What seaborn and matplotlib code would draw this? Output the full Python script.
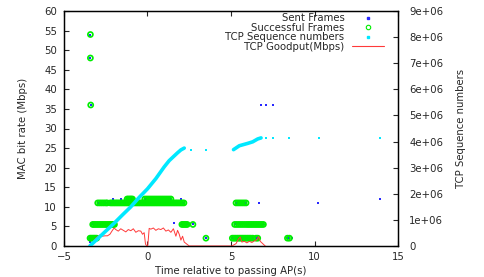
import matplotlib
matplotlib.use('Agg')
import matplotlib.pyplot as plt
import numpy as np
import pandas as pd
import seaborn as sns
from matplotlib.lines import Line2D

# successful frames: time (s) per MAC rate (Mbps)
succ_54 = [-3.42]
succ_48 = [-3.42]
succ_36 = [-3.40]
succ_12 = [-1.22, -1.14, -1.06, -0.98, -0.9, -0.16, -0.04, 0.08, 0.2, 0.32, 0.44,
           0.56, 0.68, 0.8, 0.92, 1.04, 1.16, 1.28, 1.4]
succ_11 = [-2.98, -2.86, -2.74, -2.62, -2.5, -2.41, -2.22, -2.12, -2.02, -1.92, -1.82,
           -1.72, -1.62, -1.52, -1.42, -1.32, -1.22, -1.12, -1.02, -0.92, -0.82, -0.72,
           -0.62, -0.52, -0.42, -0.32, -0.22, -0.12, -0.02, 0.08, 0.18, 0.28, 0.38, 0.48,
           0.58, 0.68, 0.78, 0.88, 0.98, 1.08, 1.18, 1.28, 1.38, 1.48, 1.58, 1.68, 1.78,
           1.88, 1.98, 2.08, 2.18, 5.3, 5.42, 5.54, 5.66, 5.78, 5.9]
succ_55 = [-3.28, -3.2, -3.1, -3.0, -2.9, -2.8, -2.7, -2.6, -2.5, -2.4, -2.3, -2.22,
           -2.14, -2.06, -1.98, 2.06, 2.14, 2.22, 2.3, 2.38, 2.72, 5.22, 5.34, 5.46, 5.58,
           5.7, 5.82, 5.94, 6.04, 6.14, 6.24, 6.34, 6.44, 6.54, 6.64, 6.74, 6.84, 6.94]
succ_2 = [-3.44, -3.36, -3.28, -3.2, -3.12, -3.04, 3.5, 5.08, 5.18, 5.28, 5.38, 5.48,
          5.58, 5.68, 5.78, 5.88, 5.98, 6.08, 6.18, 6.3, 6.5, 6.6, 8.38, 8.5]

# frames sent but not successful
fail_t = [-3.45, -2.07, -1.57, 2.0, 1.6, 6.65, 10.22, 13.9, 6.8, 7.1, 7.5, 8.63]
fail_rate = [1, 12, 12, 12, 6, 11, 11, 12, 36, 36, 36, 2]

# TCP sequence numbers
seq_t1 = [-3.45, -3.0, -2.5, -2.0, -1.5, -1.0, -0.5, 0.0, 0.5, 1.0, 1.3, 1.5, 1.8, 2.0, 2.2]
seq_v1 = [0, 0.27e6, 0.57e6, 0.87e6, 1.19e6, 1.5e6, 1.86e6, 2.19e6, 2.58e6, 3.03e6,
          3.27e6, 3.39e6, 3.57e6, 3.68e6, 3.75e6]
seq_t2 = [5.15, 5.5, 6.0, 6.3, 6.6, 6.8]
seq_v2 = [3.69e6, 3.84e6, 3.93e6, 3.99e6, 4.10e6, 4.14e6]
seq_dot_t = [2.6, 3.5, 7.07, 7.52, 8.45, 10.24, 13.91]
seq_dot_v = [3.68e6, 3.68e6, 4.14e6, 4.14e6, 4.14e6, 4.14e6, 4.14e6]

# TCP goodput (Mbps)
gp_t = [-3.4, -3.25, -3.1, -2.95, -2.85, -2.7, -2.55, -2.4, -2.25, -2.1, -2.0, -1.9,
        -1.75, -1.6, -1.45, -1.3, -1.15, -1.0, -0.85, -0.7, -0.55, -0.4, -0.3, -0.2,
        -0.12, -0.05, 0.02, 0.1, 0.2, 0.35, 0.5, 0.65, 0.8, 0.95, 1.1, 1.25, 1.4, 1.55,
        1.7, 1.8, 1.9, 2.0, 2.1, 2.2, 2.35, 2.5, 3.5, 5.05, 5.3, 5.45, 5.55, 5.65, 5.8,
        5.95, 6.1, 6.25, 6.4, 6.55, 6.65, 6.75, 6.9, 7.05]
gp_v = [0, 1.0, 2.0, 2.5, 2.8, 2.5, 2.6, 2.6, 3.0, 4.0, 4.6, 4.2, 3.8, 4.4, 4.0, 3.6,
        4.2, 3.9, 4.4, 3.5, 3.9, 3.8, 3.0, 3.4, 0.5, 0.0, 0.2, 4.5, 4.3, 4.6, 4.0, 4.4,
        4.2, 4.6, 3.8, 4.1, 3.5, 4.4, 2.5, 4.0, 3.0, 1.5, 2.5, 1.0, 0.5, 0.0, 0.0, 0.0,
        0.6, 1.8, 2.3, 1.0, 1.2, 0.8, 1.2, 0.9, 1.3, 1.6, 2.4, 1.2, 0.6, 0.0]

succ = pd.DataFrame({
    't': succ_54 + succ_48 + succ_36 + succ_12 + succ_11 + succ_55 + succ_2,
    'rate': [54] * len(succ_54) + [48] * len(succ_48) + [36] * len(succ_36)
            + [12] * len(succ_12) + [11] * len(succ_11) + [5.5] * len(succ_55)
            + [2] * len(succ_2),
})
sent = pd.concat([succ, pd.DataFrame({'t': fail_t, 'rate': fail_rate})], ignore_index=True)

sns.set_theme(style='ticks')
plt.rcParams['font.family'] = ['DejaVu Sans']
plt.rcParams['font.size'] = 7.3

fig = plt.figure(figsize=(4.85, 2.77), dpi=100)
ax = fig.add_axes([64 / 485, 31 / 277, 334 / 485, 235 / 277])
ax2 = ax.twinx()

sns.scatterplot(x='t', y='rate', data=sent, ax=ax, color='#2828ff', marker='s',
                s=4, linewidth=0, legend=False, zorder=2)
sns.scatterplot(x='t', y='rate', data=succ, ax=ax, marker='o', s=13,
                facecolor='none', edgecolor='#00ee00', linewidth=1.25, legend=False, zorder=3)
sns.lineplot(x=gp_t, y=gp_v, ax=ax, color='#ff3a3a', linewidth=0.7, zorder=4)

sns.lineplot(x=seq_t1, y=seq_v1, ax=ax2, color='#00e8ff', linewidth=2.6)
sns.lineplot(x=seq_t2, y=seq_v2, ax=ax2, color='#00e8ff', linewidth=2.6)
sns.scatterplot(x=seq_dot_t, y=seq_dot_v, ax=ax2, color='#00e8ff', marker='s',
                s=3, linewidth=0, legend=False)

ax.set_xlim(-5, 15)
ax.set_ylim(0, 60)
ax.set_xticks([-5, 0, 5, 10, 15])
ax.set_yticks(range(0, 61, 5))
ax2.set_ylim(0, 9e6)
ax2.set_yticks([i * 1e6 for i in range(10)])
ax2.set_yticklabels(['{:g}'.format(i * 1e6) for i in range(10)])

ax.tick_params(axis='x', direction='in', top=True, length=3.5, width=0.8, pad=4,
               labelsize=7.3)
ax.tick_params(axis='y', direction='in', right=False, length=3.5, width=0.8, pad=5,
               labelsize=7.3)
ax2.tick_params(axis='y', direction='in', length=3.5, width=0.8, pad=8, labelsize=7.3)
for a in (ax, ax2):
    for sp in a.spines.values():
        sp.set_visible(True)
        sp.set_linewidth(0.9)
        sp.set_color('black')

ax.set_xlabel('Time relative to passing AP(s)', fontsize=7.3)
ax.set_ylabel('MAC bit rate (Mbps)', fontsize=7.3)
ax2.set_ylabel('TCP Sequence numbers', fontsize=7.3)
ax.xaxis.set_label_coords(0.5, -0.085)
ax.yaxis.set_label_coords(-0.108, 0.5)
ax2.yaxis.set_label_coords(1.174, 0.5)

handles = [
    Line2D([], [], ls='', marker='s', ms=1.8, color='#2828ff'),
    Line2D([], [], ls='', marker='o', ms=3.2, mfc='none', mec='#00ee00', mew=0.8),
    Line2D([], [], ls='', marker='s', ms=1.8, color='#00e8ff'),
    Line2D([], [], color='#ff3a3a', lw=0.8),
]
labels = ['Sent Frames', 'Successful Frames', 'TCP Sequence numbers', 'TCP Goodput(Mbps)']
ax2.legend(handles, labels, loc='upper right', bbox_to_anchor=(0.958, 0.99),
           frameon=False, markerfirst=False, fontsize=7.3, handlelength=3.2,
           handletextpad=0.7, borderaxespad=0, borderpad=0, labelspacing=-0.05)

fig.savefig('out.png', dpi=100)
